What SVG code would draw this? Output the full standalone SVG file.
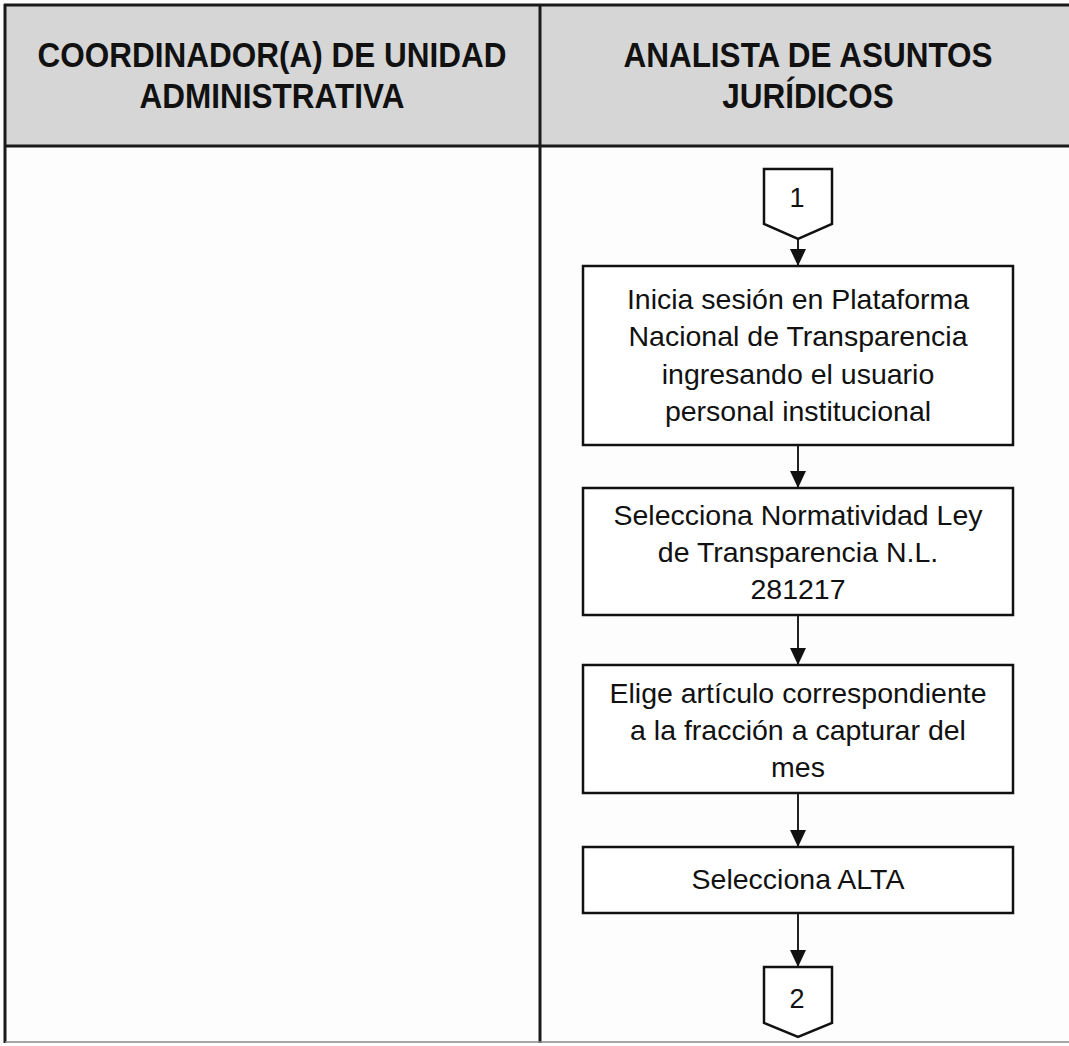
<svg xmlns="http://www.w3.org/2000/svg" width="1069" height="1046" viewBox="0 0 1069 1046">
<defs>
<style>
.hdr{font-family:"Liberation Sans",Arial,sans-serif;font-weight:bold;font-size:31.5px;fill:#111;text-anchor:middle}
.txt{font-family:"Liberation Sans",Arial,sans-serif;font-size:28.5px;fill:#111;text-anchor:middle}
.num{font-family:"Liberation Sans",Arial,sans-serif;font-size:27px;fill:#111;text-anchor:middle}
.box{fill:#fff;stroke:#111;stroke-width:2.5}
.grid{stroke:#1a1a1a;stroke-width:3;fill:none}
.conn{stroke:#222;stroke-width:2;fill:none}
</style>
<marker id="arr" viewBox="0 0 17 16" refX="17" refY="8" markerWidth="17" markerHeight="16" markerUnits="userSpaceOnUse" orient="auto">
<path d="M0,0 L17,8 L0,16 Z" fill="#111"/>
</marker>
</defs>
<rect width="1069" height="1046" fill="#fdfdfd"/>
<g id="table">
<rect x="5" y="5" width="1080" height="141" fill="#d6d6d6"/>
<line class="grid" x1="4" y1="5" x2="1069" y2="5"/>
<line class="grid" x1="4" y1="146" x2="1069" y2="146"/>
<line class="grid" x1="5" y1="4" x2="5" y2="1043"/>
<line class="grid" x1="540" y1="4" x2="540" y2="1043"/>
<line x1="5" y1="1042" x2="1069" y2="1042" stroke="#8a8a8a" stroke-width="1.5"/>
</g>
<g id="lane-coordinador">
<text class="hdr" transform="translate(272,67) scale(1,1.1)">COORDINADOR(A) DE UNIDAD</text>
<text class="hdr" transform="translate(272,108) scale(1,1.1)">ADMINISTRATIVA</text>
</g>
<g id="lane-analista">
<text class="hdr" transform="translate(808,67) scale(1,1.1)">ANALISTA DE ASUNTOS</text>
<text class="hdr" transform="translate(808,108) scale(1,1.1)">JURÍDICOS</text>
</g>
<g id="connectors">
<line class="conn" x1="798" y1="239" x2="798" y2="266" marker-end="url(#arr)"/>
<line class="conn" x1="798" y1="445" x2="798" y2="488" marker-end="url(#arr)"/>
<line class="conn" x1="798" y1="615" x2="798" y2="665" marker-end="url(#arr)"/>
<line class="conn" x1="798" y1="793" x2="798" y2="847" marker-end="url(#arr)"/>
<line class="conn" x1="798" y1="913" x2="798" y2="967" marker-end="url(#arr)"/>
</g>
<g id="offpage-1">
<path class="box" d="M764,169 H832 V224 L798,239 L764,224 Z"/>
<text class="num" x="797" y="207">1</text>
</g>
<g id="step-1">
<rect class="box" x="583" y="266" width="430" height="179"/>
<text class="txt" x="798" y="309">Inicia sesión en Plataforma</text>
<text class="txt" x="798" y="346">Nacional de Transparencia</text>
<text class="txt" x="798" y="384">ingresando el usuario</text>
<text class="txt" x="798" y="421">personal institucional</text>
</g>
<g id="step-2">
<rect class="box" x="583" y="488" width="430" height="127"/>
<text class="txt" x="798" y="525">Selecciona Normatividad Ley</text>
<text class="txt" x="798" y="562">de Transparencia N.L.</text>
<text class="txt" x="798" y="599">281217</text>
</g>
<g id="step-3">
<rect class="box" x="583" y="665" width="430" height="128"/>
<text class="txt" x="798" y="703">Elige artículo correspondiente</text>
<text class="txt" x="798" y="740">a la fracción a capturar del</text>
<text class="txt" x="798" y="777">mes</text>
</g>
<g id="step-4">
<rect class="box" x="583" y="847" width="430" height="66"/>
<text class="txt" x="798" y="889">Selecciona ALTA</text>
</g>
<g id="offpage-2">
<path class="box" d="M764,967 H832 V1023 L798,1037 L764,1023 Z"/>
<text class="num" x="797" y="1008">2</text>
</g>
</svg>
